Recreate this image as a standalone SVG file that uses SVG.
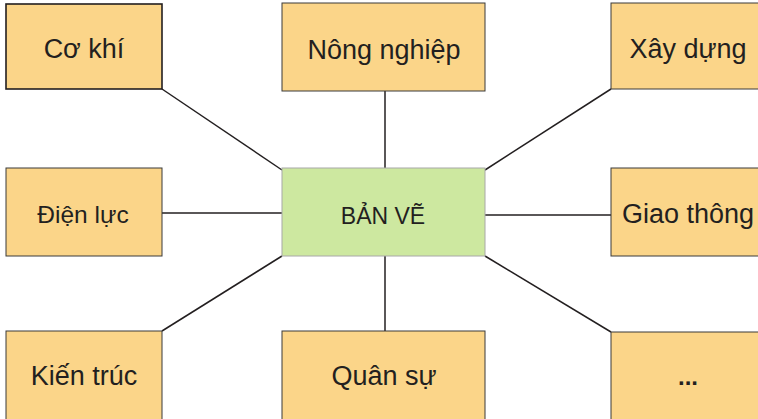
<svg xmlns="http://www.w3.org/2000/svg" width="758" height="419" viewBox="0 0 758 419">
<style>
.box{fill:#FBD589;stroke:#3a3a3a;stroke-width:1}
.center{fill:#CDE8A0;stroke:#a8a8a8;stroke-width:1}
text{font-family:"Liberation Sans",Arial,sans-serif;font-size:27px;fill:#231F20;text-anchor:middle}
.conn line{stroke:#231F20;stroke-width:1.5}
</style>
<rect width="758" height="419" fill="#fff"/>
<g class="conn" id="connectors">
<line x1="162" y1="89" x2="282" y2="170"/>
<line x1="385" y1="91" x2="385" y2="168"/>
<line x1="611" y1="89" x2="485" y2="170"/>
<line x1="162" y1="213" x2="282" y2="213"/>
<line x1="485" y1="215" x2="611" y2="215"/>
<line x1="162" y1="331" x2="282" y2="256"/>
<line x1="385" y1="256" x2="385" y2="331"/>
<line x1="611" y1="332" x2="485" y2="256"/>
</g>
<g id="co-khi"><rect class="box" x="6" y="4" width="156" height="85" style="stroke-width:1.6;stroke:#231F20"/><text x="84" y="58">Cơ khí</text></g>
<g id="nong-nghiep"><rect class="box" x="282" y="3" width="203" height="88"/><text x="384" y="59">Nông nghiệp</text></g>
<g id="xay-dung"><rect class="box" x="611" y="3" width="155" height="86"/><text x="688" y="58">Xây dựng</text></g>
<g id="dien-luc"><rect class="box" x="6" y="168" width="156" height="88"/><text x="83" y="223" style="font-size:24.5px">Điện lực</text></g>
<g id="ban-ve"><rect class="center" x="282" y="168" width="203" height="88"/><text x="383" y="224" style="font-size:23px">BẢN VẼ</text></g>
<g id="giao-thong"><rect class="box" x="611" y="168" width="155" height="88"/><text x="688" y="223">Giao thông</text></g>
<g id="kien-truc"><rect class="box" x="6" y="331" width="156" height="95"/><text x="84" y="385">Kiến trúc</text></g>
<g id="quan-su"><rect class="box" x="282" y="331" width="203" height="95"/><text x="384" y="385">Quân sự</text></g>
<g id="more"><rect class="box" x="611" y="332" width="155" height="95"/><text x="688" y="385" style="font-weight:bold;font-size:24px">...</text></g>
</svg>
